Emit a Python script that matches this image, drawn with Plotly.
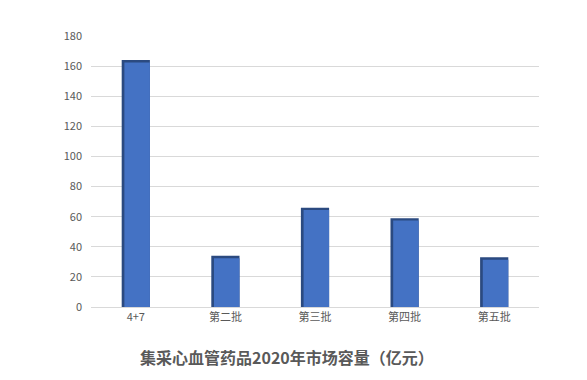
import plotly.graph_objects as go

categories = ["4+7", "第二批", "第三批", "第四批", "第五批"]
values = [164, 34, 66, 59, 33]
y_ticks = [0, 20, 40, 60, 80, 100, 120, 140, 160, 180]
title_text = "集采心血管药品2020年市场容量（亿元）"

fig = go.Figure()
# shadow (darker) layer
fig.add_trace(go.Bar(
    x=categories, y=values, width=0.315, offset=-0.1575,
    marker=dict(color="#2B4A80", line=dict(width=0)),
    hoverinfo="skip", showlegend=False,
))
# main face
fig.add_trace(go.Bar(
    x=categories, y=[v - 1.6 for v in values], width=0.285, offset=-0.1275,
    marker=dict(color="#4472C4", line=dict(width=0)),
    showlegend=False,
))

fig.update_layout(
    barmode="overlay",
    width=587, height=380,
    margin=dict(l=91, r=48, t=36, b=73),
    paper_bgcolor="white", plot_bgcolor="white",
    font=dict(family="Noto Sans CJK SC, sans-serif", color="#595959", size=11),
    xaxis=dict(
        showgrid=False, showline=True, linecolor="#D9D9D9", linewidth=1,
        ticks="", tickfont=dict(size=11, color="#595959"),
    ),
    yaxis=dict(
        range=[0, 180], tickvals=y_ticks, showgrid=True, gridcolor="#D9D9D9",
        gridwidth=1, zeroline=False, showline=False, ticks="",
        tickfont=dict(size=11, color="#595959"), ticklabelstandoff=8,
    ),
    annotations=[dict(
        text="<b>" + title_text + "</b>", xref="paper", yref="paper",
        x=0.5, y=-0.185, xanchor="center", yanchor="middle", showarrow=False,
        font=dict(size=16, color="#595959", family="Noto Sans CJK SC, sans-serif"),
        xshift=-28,
    )],
)

fig.write_html("out.html")
